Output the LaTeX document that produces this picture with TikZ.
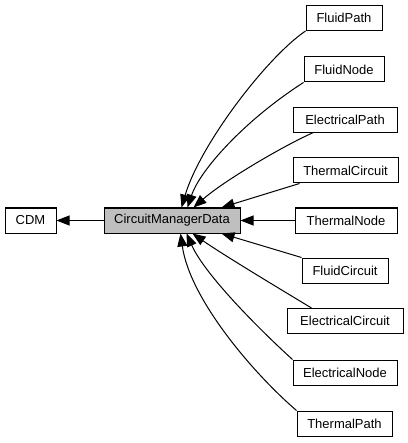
\documentclass[tikz,border=0pt]{standalone}
\usepackage{fontspec}
\setmainfont{Liberation Sans}
\usetikzlibrary{arrows.meta}
\definecolor{cmdgray}{HTML}{BFBFBF}
\begin{document}
\begin{tikzpicture}[x=1pt,y=-1pt,
  box/.style={draw=black,line width=1pt,fill=white,minimum height=25pt,inner sep=0pt,
    font=\fontsize{13}{15}\selectfont},
  edge/.style={line width=1pt,-{Triangle[length=13pt,width=10pt]}}]
\useasboundingbox (0,0) rectangle (407,443);
\node[box,minimum width=51pt] (cdm) at (30.5,220.5) {CDM};
\node[box,minimum width=136pt,fill=cmdgray] (cmd) at (172,220.5) {CircuitManagerData};
\node[box,minimum width=76pt] (fp) at (344,18) {FluidPath};
\node[box,minimum width=80pt] (fn) at (344,69.5) {FluidNode};
\node[box,minimum width=104pt] (ep) at (345,120) {ElectricalPath};
\node[box,minimum width=105pt] (tc) at (345.5,170.5) {ThermalCircuit};
\node[box,minimum width=102pt] (tn) at (346,220.5) {ThermalNode};
\node[box,minimum width=86pt] (fc) at (345,270.5) {FluidCircuit};
\node[box,minimum width=116pt] (ec) at (345,321) {ElectricalCircuit};
\node[box,minimum width=104pt] (en) at (345,372.5) {ElectricalNode};
\node[box,minimum width=95pt] (tp) at (344.5,423.5) {ThermalPath};

\draw[edge] (cmd.west) -- (cdm.east);
\draw[edge] (tn.west) -- (cmd.east);
% upper
\draw[edge] (fp.south west) .. controls (266,58) and (200,145) .. ([xshift=78pt]cmd.north west);
\draw[edge] (fn.south west) .. controls (245,120) and (200,170) .. ([xshift=84pt]cmd.north west);
\draw[edge] ([xshift=20pt]ep.south west) .. controls (285,145) and (225,180) .. ([xshift=90pt]cmd.north west);
\draw[edge] ([xshift=7pt]tc.south west) -- ([xshift=118pt]cmd.north west);
% lower
\draw[edge] (fc.north west) -- ([xshift=118pt]cmd.south west);
\draw[edge] ([xshift=25pt]ec.north west) .. controls (285,292) and (225,256) .. ([xshift=89pt]cmd.south west);
\draw[edge] (en.north west) .. controls (260,330) and (205,275) .. ([xshift=83pt]cmd.south west);
\draw[edge] (tp.north west) .. controls (255,375) and (190,300) .. ([xshift=77pt]cmd.south west);
\end{tikzpicture}
\end{document}
